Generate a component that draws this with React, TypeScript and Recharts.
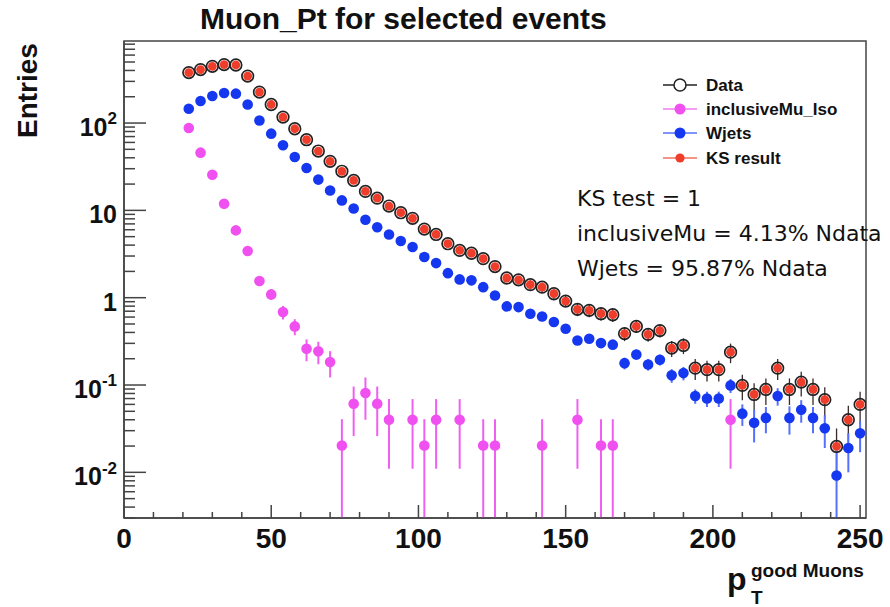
import { ErrorBar, ReferenceArea, Scatter, ScatterChart, XAxis, YAxis } from "recharts";

// bin centres of the p_T histogram (4 GeV bins from 20 to 252)
const binCenters = [
  22, 26, 30, 34, 38, 42, 46, 50, 54, 58, 62, 66, 70, 74, 78, 82, 86, 90, 94, 98,
  102, 106, 110, 114, 118, 122, 126, 130, 134, 138, 142, 146, 150, 154, 158, 162, 166, 170, 174, 178,
  182, 186, 190, 194, 198, 202, 206, 210, 214, 218, 222, 226, 230, 234, 238, 242, 246, 250,
];

const dataValues = [
  378, 409, 446, 467, 462, 345, 226, 163, 117, 86, 64.5, 47.8, 36.4, 28, 22, 16.5, 13.8, 11.2, 9.4, 8.1,
  6.1, 5.3, 4.15, 3.48, 3.23, 2.8, 2.27, 1.68, 1.6, 1.41, 1.32, 1.11, 0.914, 0.735, 0.716, 0.656, 0.638, 0.388, 0.469, 0.38,
  0.42, 0.265, 0.284, 0.156, 0.15, 0.15, 0.238, 0.099, 0.078, 0.089, 0.156, 0.089, 0.108, 0.089, 0.068, 0.0198, 0.04, 0.06,
];
const dataErrors = [
  2.7, 2.8, 3.0, 3.0, 3.0, 2.6, 2.1, 1.8, 1.5, 1.3, 1.13, 0.97, 0.85, 0.74, 0.66, 0.57, 0.52, 0.47, 0.43, 0.4,
  0.35, 0.32, 0.29, 0.26, 0.25, 0.24, 0.21, 0.18, 0.18, 0.17, 0.16, 0.15, 0.13, 0.12, 0.12, 0.11, 0.11, 0.07, 0.075, 0.068,
  0.07, 0.055, 0.058, 0.042, 0.04, 0.04, 0.06, 0.032, 0.027, 0.03, 0.042, 0.03, 0.034, 0.03, 0.026, 0.012, 0.018, 0.024,
];

const inclusiveMuValues = [
  87.7, 45.8, 25.6, 11.9, 5.9, 3.42, 1.55, 1.09, 0.684, 0.469, 0.26, 0.243, 0.183, 0.0203, 0.061, 0.081, 0.061, 0.04, null, 0.04,
  0.0203, 0.04, null, 0.04, null, 0.0203, 0.0203, null, null, null, 0.0203, null, null, 0.04, null, 0.0203, 0.0203, null, null, null,
  null, null, null, null, null, null, 0.04, null, null, null, null, null, null, null, null, null, null, null,
];
const inclusiveMuErrors = [
  1.33, 0.96, 0.72, 0.49, 0.35, 0.26, 0.18, 0.15, 0.12, 0.098, 0.073, 0.07, 0.061, 0.0203, 0.035, 0.041, 0.035, 0.029, 0, 0.029,
  0.0203, 0.029, 0, 0.029, 0, 0.0203, 0.0203, 0, 0, 0, 0.0203, 0, 0, 0.029, 0, 0.0203, 0.0203, 0, 0, 0,
  0, 0, 0, 0, 0, 0, 0.029, 0, 0, 0, 0, 0, 0, 0, 0, 0, 0, 0,
];

const wjetsValues = [
  146, 179, 204, 221, 217, 163, 107, 75.6, 55.6, 40.8, 30.6, 22.5, 16.9, 13.0, 10.5, 7.8, 6.4, 5.3, 4.45, 3.8,
  2.92, 2.49, 1.91, 1.62, 1.58, 1.32, 1.06, 0.795, 0.78, 0.656, 0.61, 0.526, 0.441, 0.324, 0.339, 0.302, 0.29, 0.178, 0.224, 0.172,
  0.195, 0.129, 0.137, 0.075, 0.07, 0.07, 0.099, 0.047, 0.037, 0.042, 0.075, 0.042, 0.052, 0.042, 0.032, 0.0092, 0.019, 0.028,
];
const wjetsErrors = [
  0.8, 0.85, 0.9, 0.95, 0.95, 0.8, 0.65, 0.55, 0.47, 0.4, 0.35, 0.3, 0.26, 0.23, 0.2, 0.18, 0.16, 0.15, 0.13, 0.12,
  0.11, 0.1, 0.09, 0.08, 0.08, 0.075, 0.065, 0.056, 0.056, 0.051, 0.049, 0.046, 0.042, 0.036, 0.037, 0.035, 0.034, 0.027, 0.03, 0.026,
  0.028, 0.023, 0.024, 0.014, 0.014, 0.014, 0.018, 0.013, 0.015, 0.014, 0.017, 0.015, 0.015, 0.014, 0.013, 0.0088, 0.009, 0.011,
];

// KS fit result, sits on top of the data points
const ksResultValues = [
  378, 409, 446, 467, 462, 345, 226, 163, 117, 86, 64.5, 47.8, 36.4, 28, 22, 16.5, 13.8, 11.2, 9.4, 8.1,
  6.1, 5.3, 4.15, 3.48, 3.23, 2.8, 2.27, 1.68, 1.6, 1.41, 1.32, 1.11, 0.914, 0.735, 0.716, 0.656, 0.638, 0.388, 0.469, 0.38,
  0.42, 0.265, 0.284, 0.156, 0.15, 0.15, 0.238, 0.099, 0.078, 0.089, 0.156, 0.089, 0.108, 0.089, 0.068, 0.0198, 0.04, 0.06,
];

const xTicks = [0, 10, 20, 30, 40, 50, 60, 70, 80, 90, 100, 110, 120, 130, 140, 150, 160, 170, 180, 190, 200, 210, 220, 230, 240, 250];
const yTicks = [
  0.003, 0.004, 0.005, 0.006, 0.007, 0.008, 0.009, 0.01,
  0.02, 0.03, 0.04, 0.05, 0.06, 0.07, 0.08, 0.09, 0.1,
  0.2, 0.3, 0.4, 0.5, 0.6, 0.7, 0.8, 0.9, 1,
  2, 3, 4, 5, 6, 7, 8, 9, 10,
  20, 30, 40, 50, 60, 70, 80, 90, 100,
  200, 300, 400, 500, 600, 700, 800,
];

const ksLines = ["KS test = 1", "inclusiveMu = 4.13% Ndata", "Wjets = 95.87% Ndata"];

const Y_MIN = 0.003;
const Y_MAX = 870;
const X_MAX = 252;

const HELV = "'Liberation Sans', Arial, Helvetica, sans-serif";
const AXIS = "#444";
const RED = "#ef3d2b";
const BLUE = "#1537f0";
const MAGENTA = "#f050f0";

function buildRows(values: (number | null)[], errors: number[]) {
  return binCenters.flatMap((x, i) => {
    const y = values[i];
    if (y == null) return [];
    const e = errors[i] ?? 0;
    const lo = Math.max(y - e, Y_MIN);
    return [{ x, y, err: [y - lo, e] }];
  });
}

const dataRows = buildRows(dataValues, dataErrors);
const muRows = buildRows(inclusiveMuValues, inclusiveMuErrors);
const wjetsRows = buildRows(wjetsValues, wjetsErrors);
const ksRows = buildRows(ksResultValues, ksResultValues.map(() => 0));

function XTick({ x, y, payload }: any) {
  const v = payload.value;
  const major = v % 50 === 0;
  return (
    <g>
      <line x1={x} x2={x} y1={y} y2={y - (major ? 13 : 6)} stroke={AXIS} strokeWidth={1.5} />
      {major && (
        <text x={x} y={y + 30} textAnchor="middle" fontSize={28} fontWeight="bold" fontFamily={HELV} fill="#111">
          {v}
        </text>
      )}
    </g>
  );
}

function YTick({ x, y, payload }: any) {
  const v = payload.value;
  const lg = Math.log10(v);
  const exp = Math.round(lg);
  const major = Math.abs(lg - exp) < 1e-6;
  return (
    <g>
      <line x1={x} x2={x + (major ? 22 : 11)} y1={y} y2={y} stroke={AXIS} strokeWidth={1.5} />
      {major && (
        <text x={x - 7} y={y + 13} textAnchor="end" fontSize={25} fontWeight="bold" fontFamily={HELV} fill="#111">
          {exp === 0 ? "1" : "10"}
          {exp !== 0 && exp !== 1 && (
            <tspan dy={-11.6} fontSize={17}>
              {exp}
            </tspan>
          )}
        </text>
      )}
    </g>
  );
}

const dataShape = (p: any) => <circle cx={p.cx} cy={p.cy} r={5.8} fill="none" stroke="#222" strokeWidth={1.7} />;
const muShape = (p: any) => <circle cx={p.cx} cy={p.cy} r={5.3} fill={MAGENTA} />;
const wjetsShape = (p: any) => <circle cx={p.cx} cy={p.cy} r={5.3} fill={BLUE} />;
const ksShape = (p: any) => <circle cx={p.cx} cy={p.cy} r={4.4} fill={RED} />;

const legendItems = [
  { label: "Data", line: "#222", marker: <circle cx={680} r={6} fill="#fff" stroke="#222" strokeWidth={1.5} /> },
  { label: "inclusiveMu_Iso", line: "#f27cf2", marker: <circle cx={680} r={5.5} fill={MAGENTA} /> },
  { label: "Wjets", line: "#5570ff", marker: <circle cx={680} r={5.5} fill={BLUE} /> },
  { label: "KS result", line: "#f07060", marker: <circle cx={680} r={4.6} fill={RED} /> },
];
const legendRows = [85, 109, 133, 158];

export default function App() {
  return (
    <div style={{ position: "absolute", left: 0, top: 0, width: 890, height: 607, background: "#fff" }}>
      <ScatterChart width={890} height={607} margin={{ top: 41, right: 24, bottom: 0, left: 0 }}>
        <XAxis
          type="number"
          dataKey="x"
          domain={[0, X_MAX]}
          allowDataOverflow
          ticks={xTicks}
          interval={0}
          tick={<XTick />}
          tickLine={false}
          tickSize={0}
          tickMargin={0}
          height={89}
          axisLine={{ stroke: AXIS, strokeWidth: 1.5 }}
        />
        <YAxis
          type="number"
          dataKey="y"
          scale="log"
          domain={[Y_MIN, Y_MAX]}
          allowDataOverflow
          ticks={yTicks}
          interval={0}
          tick={<YTick />}
          tickLine={false}
          tickSize={0}
          tickMargin={0}
          width={124}
          axisLine={{ stroke: AXIS, strokeWidth: 1.5 }}
        />
        <ReferenceArea x1={0} x2={X_MAX} y1={Y_MIN} y2={Y_MAX} fill="none" stroke={AXIS} strokeWidth={1.5} ifOverflow="visible" />
        <Scatter data={dataRows} shape={dataShape} isAnimationActive={false}>
          <ErrorBar dataKey="err" direction="y" width={0} stroke="#3a2a2a" strokeWidth={1.3} />
        </Scatter>
        <Scatter data={muRows} shape={muShape} isAnimationActive={false}>
          <ErrorBar dataKey="err" direction="y" width={0} stroke="#f060f0" strokeWidth={2} />
        </Scatter>
        <Scatter data={wjetsRows} shape={wjetsShape} isAnimationActive={false}>
          <ErrorBar dataKey="err" direction="y" width={0} stroke="#5570ff" strokeWidth={2} />
        </Scatter>
        <Scatter data={ksRows} shape={ksShape} isAnimationActive={false} />
      </ScatterChart>

      <svg width={890} height={607} style={{ position: "absolute", left: 0, top: 0, pointerEvents: "none" }}>
        <text x={200} y={29} fontSize={30} fontWeight="bold" fontFamily={HELV} fill="#111">
          Muon_Pt for selected events
        </text>
        <text transform="translate(37,138) rotate(-90)" fontSize={28} fontWeight="bold" fontFamily={HELV} fill="#111">
          Entries
        </text>
        <text x={727} y={590} fontSize={32} fontWeight="bold" fontFamily={HELV} fill="#111">
          p
        </text>
        <text x={751} y={577} fontSize={19} fontWeight="bold" fontFamily={HELV} fill="#111">
          good Muons
        </text>
        <text x={751} y={604} fontSize={19} fontWeight="bold" fontFamily={HELV} fill="#111">
          T
        </text>

        {legendItems.map((item, i) => (
          <g key={item.label} transform={`translate(0,${legendRows[i]})`}>
            <line x1={663} x2={697} y1={0} y2={0} stroke={item.line} strokeWidth={1.5} />
            {item.marker}
            <text x={706} y={6} fontSize={17} fontWeight="bold" fontFamily={HELV} fill="#111">
              {item.label}
            </text>
          </g>
        ))}

        {ksLines.map((line, i) => (
          <text key={line} x={577} y={206 + i * 35} fontSize={22} fontFamily="'DejaVu Sans', sans-serif" fill="#111">
            {line}
          </text>
        ))}
      </svg>
    </div>
  );
}
